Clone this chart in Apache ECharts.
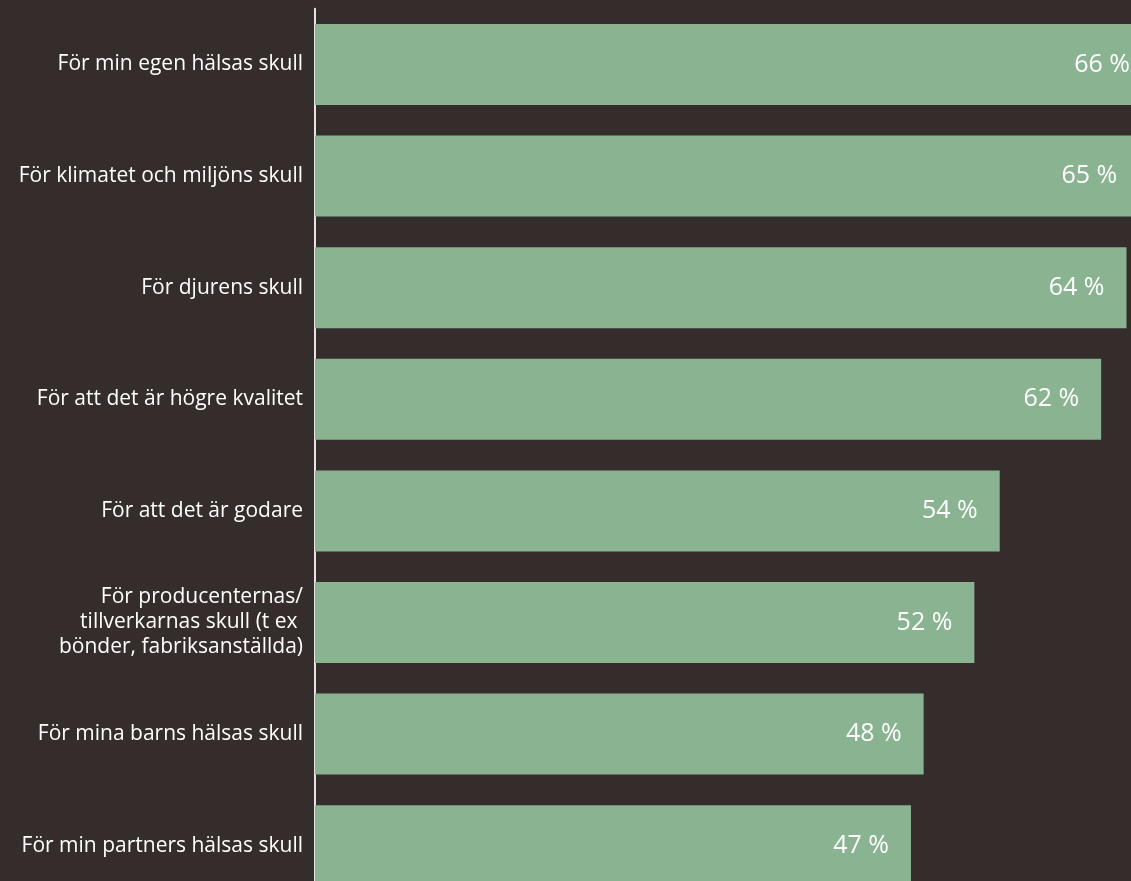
<!DOCTYPE html>
<html>
<head>
<meta charset="utf-8">
<script src="https://cdn.jsdelivr.net/npm/echarts@6/dist/echarts.min.js"></script>
<style>
html,body{margin:0;padding:0;background:#352c2c;}
#chart{width:1131px;height:881px;}
</style>
</head>
<body>
<div id="chart"></div>
<script>
const categories = [
  "För min egen hälsas skull",
  "För klimatet och miljöns skull",
  "För djurens skull",
  "För att det är högre kvalitet",
  "För att det är godare",
  "För producenternas/\ntillverkarnas skull (t ex \nbönder, fabriksanställda)",
  "För mina barns hälsas skull",
  "För min partners hälsas skull"
];
const values = [66, 65, 64, 62, 54, 52, 48, 47];

const chart = echarts.init(document.getElementById('chart'));
chart.setOption({
  backgroundColor: '#352c2c',
  animation: false,
  grid: { left: 315, top: 8.7, width: 1268, height: 892.8, containLabel: false, outerBoundsMode: 'none' },
  xAxis: {
    type: 'value', min: 0, max: 100, show: false
  },
  yAxis: {
    type: 'category', data: categories, inverse: true,
    axisLine: { show: true, lineStyle: { color: '#e8e4e4', width: 2 } },
    axisTick: { show: false },
    axisLabel: {
      color: '#ffffff', fontSize: 21, fontFamily: 'Open Sans', margin: 12,
      lineHeight: 25, align: 'right'
    }
  },
  series: [{
    type: 'bar', data: values, barWidth: 81,
    itemStyle: { color: '#8ab391' },
    label: {
      show: true, position: 'insideRight', distance: 22,
      color: '#ffffff', fontSize: 25, fontFamily: 'Open Sans',
      formatter: '{c} %'
    }
  }]
});
</script>
</body>
</html>
